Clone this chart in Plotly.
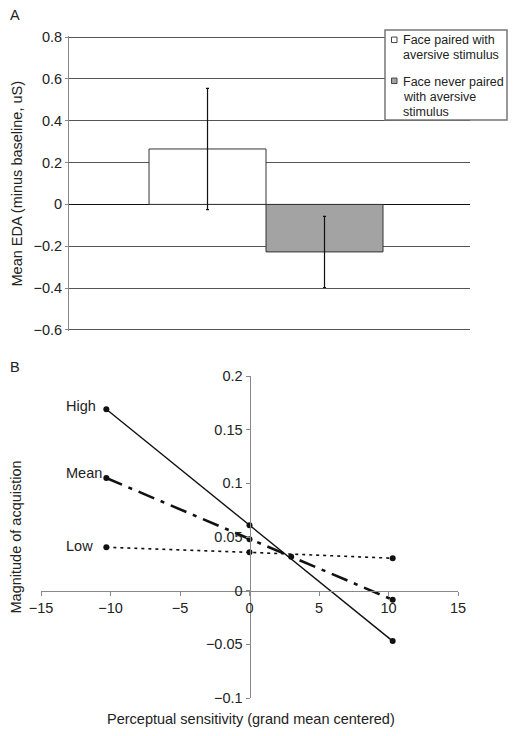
import plotly.graph_objects as go

# ---------------- Data ----------------
# Panel A
bar_names = ["Face paired with aversive stimulus", "Face never paired with aversive stimulus"]
legend_lines = [["Face paired with", "aversive stimulus"],
                ["Face never paired", "with aversive", "stimulus"]]
bar_values = [0.265, -0.227]
bar_errors = [0.29, 0.17]
bar_colors = ["#ffffff", "#a3a3a3"]

# Panel B
line_names = ["High", "Mean", "Low"]
high_x = [-10.3, 0, 10.3]
high_y = [0.169, 0.061, -0.047]
mean_x = [-10.3, 0, 3.0, 10.3]
mean_y = [0.105, 0.048, 0.0317, -0.0085]
low_x = [-10.3, 0, 10.3]
low_y = [0.0404, 0.0357, 0.0302]

W, H = 517, 736
FONT = "Arial, Liberation Sans, Helvetica, sans-serif"
TXT = "#222222"
FS = 14.5

def px_x(p):
    return p / W

def px_y(p):
    return 1 - p / H

fig = go.Figure()

# ---------------- Panel A ----------------
for i in range(2):
    fig.add_trace(go.Bar(
        x=["c"], y=[bar_values[i]], name=bar_names[i],
        marker=dict(color=bar_colors[i], line=dict(color="#333333", width=1)),
        error_y=dict(type="data", array=[bar_errors[i]], color="#111111", thickness=1.2, width=1.5),
        xaxis="x", yaxis="y", showlegend=False,
    ))

# ---------------- Panel B ----------------
fig.add_trace(go.Scatter(x=high_x, y=high_y, mode="lines+markers", name="High",
                         line=dict(color="#111111", width=1.4),
                         marker=dict(color="#111111", size=6),
                         xaxis="x2", yaxis="y2", showlegend=False))
fig.add_trace(go.Scatter(x=mean_x, y=mean_y, mode="lines+markers", name="Mean",
                         line=dict(color="#111111", width=2.6, dash="17px,7px,4px,7px"),
                         marker=dict(color="#111111", size=6),
                         xaxis="x2", yaxis="y2", showlegend=False))
fig.add_trace(go.Scatter(x=low_x, y=low_y, mode="lines+markers", name="Low",
                         line=dict(color="#111111", width=1.6, dash="3px,4px"),
                         marker=dict(color="#111111", size=6),
                         xaxis="x2", yaxis="y2", showlegend=False))

# Panel A geometry
ax_l, ax_r, ay_t, ay_b = 69, 470, 37, 330
# Panel B geometry
bx_l, bx_r, by_t, by_b = 41, 458, 376, 698
bx0 = bx_l + (bx_r - bx_l) * 15 / 30          # pixel of x=0
by0 = by_t + (by_b - by_t) * 0.2 / 0.3         # pixel of y=0

tickfont = dict(family=FONT, size=FS, color=TXT)

fig.update_layout(
    width=W, height=H,
    margin=dict(l=0, r=0, t=0, b=0),
    paper_bgcolor="white", plot_bgcolor="white",
    font=dict(family=FONT, size=FS, color=TXT),
    barmode="group", bargap=0.4165, bargroupgap=0,
    showlegend=False,
    xaxis=dict(domain=[px_x(ax_l), px_x(ax_r)], anchor="y", type="category",
               range=[-0.4913, 0.5087], showticklabels=False, showgrid=False,
               showline=False, zeroline=False, ticks="", automargin=False),
    yaxis=dict(domain=[px_y(ay_b + 1), px_y(ay_t - 1)], anchor="x", range=[-0.605, 0.805],
               dtick=0.2, tick0=0, showgrid=True, gridcolor="#555555", gridwidth=1,
               zeroline=True, zerolinecolor="#111111", zerolinewidth=1.2,
               showline=True, linecolor="#888888", linewidth=1,
               ticks="outside", ticklen=3, tickcolor="#888888",
               tickfont=tickfont, automargin=False),
    xaxis2=dict(domain=[px_x(bx_l), px_x(bx_r)], anchor="free", position=px_y(by0),
                range=[-15, 15], dtick=5, tick0=0, showgrid=False, zeroline=False,
                showline=True, linecolor="#888888", linewidth=1,
                ticks="outside", ticklen=4, tickcolor="#888888",
                tickfont=tickfont, automargin=False),
    yaxis2=dict(domain=[px_y(by_b), px_y(by_t)], anchor="free", position=px_x(bx0),
                range=[-0.1, 0.2], dtick=0.05, tick0=0, showgrid=False, zeroline=False,
                showline=True, linecolor="#888888", linewidth=1,
                ticks="outside", ticklen=4, tickcolor="#888888",
                tickfont=tickfont, automargin=False),
)

# ---------------- Manual legend (panel A) ----------------
fig.add_shape(type="rect", xref="paper", yref="paper",
              x0=px_x(385), x1=px_x(507), y0=px_y(120), y1=px_y(30),
              fillcolor="white", line=dict(color="#777777", width=1.5), layer="above")
sq_y = [39.8, 80.8]
line_y = [[40, 54.5], [82, 97, 111.5]]
for i in range(2):
    fig.add_shape(type="rect", xref="paper", yref="paper",
                  x0=px_x(391.5), x1=px_x(397), y0=px_y(sq_y[i] + 2.75), y1=px_y(sq_y[i] - 2.75),
                  fillcolor=bar_colors[i], line=dict(color="#444444", width=1), layer="above")
    for txt, yy in zip(legend_lines[i], line_y[i]):
        fig.add_annotation(xref="paper", yref="paper", showarrow=False,
                           xanchor="left", yanchor="middle", x=px_x(401), y=px_y(yy),
                           text=txt, font=dict(family=FONT, size=12.5, color=TXT))

annots = [
    dict(text="A", x=px_x(15), y=px_y(15)),
    dict(text="B", x=px_x(15), y=px_y(367)),
    dict(text="Mean EDA (minus baseline, uS)", x=px_x(16), y=px_y(183.5), textangle=-90),
    dict(text="Magnitude of acquistion", x=px_x(15), y=px_y(537.5), textangle=-90),
    dict(text="Perceptual sensitivity (grand mean centered)", x=px_x(251), y=px_y(719)),
]
for a in annots:
    fig.add_annotation(xref="paper", yref="paper", showarrow=False,
                       xanchor="center", yanchor="middle",
                       font=dict(family=FONT, size=FS, color=TXT), **a)

# line labels in panel B
label_pos = {"High": (64, 405.5), "Mean": (64, 473.3), "Low": (64, 546)}
for name in line_names:
    lx, ly = label_pos[name]
    fig.add_annotation(xref="paper", yref="paper", showarrow=False,
                       xanchor="left", yanchor="middle", x=px_x(lx), y=px_y(ly),
                       text=name, font=dict(family=FONT, size=FS, color=TXT))

fig.write_html("out.html", config={"displayModeBar": False},
               post_script="document.body.style.margin='0';document.body.style.overflow='hidden';")
